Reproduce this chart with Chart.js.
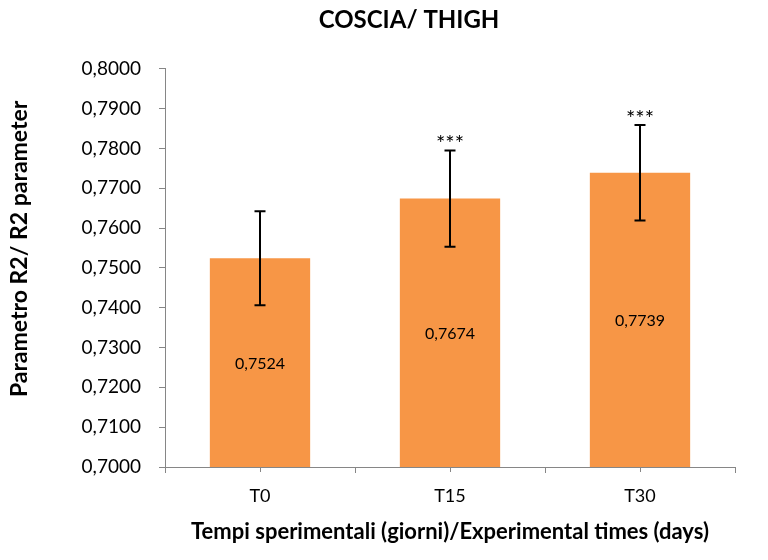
<!DOCTYPE html>
<html>
<head>
<meta charset="utf-8">
<script src="https://cdn.jsdelivr.net/npm/chart.js@4.4.1/dist/chart.umd.min.js"></script>
<style>
  html, body { margin: 0; padding: 0; background: #ffffff; }
  #wrap { width: 768px; height: 560px; }
</style>
</head>
<body>
<div id="wrap"><canvas id="c" width="768" height="560"></canvas></div>
<script>
const categories = ['T0', 'T15', 'T30'];
const values = [0.7524, 0.7674, 0.7739];
const errors = [0.0118, 0.0121, 0.0120];
const significance = ['', '***', '***'];
const yMin = 0.70, yMax = 0.80, yStep = 0.01;
const chartTitle = 'COSCIA/ THIGH';
const xTitle = 'Tempi sperimentali (giorni)/Experimental times (days)';
const yTitle = 'Parametro R2/ R2 parameter';

const FONT = 'Lato, "Open Sans", sans-serif';
const fmt = v => v.toFixed(4).replace('.', ',');

const overlay = {
  id: 'overlay',
  afterLayout(chart) {
    // position the chart title like the reference (slightly left of the plot centre)
    if (chart.titleBlock) {
      chart.titleBlock.left = 82;
      chart.titleBlock.right = 736;
    }
    // shift the y-axis title a little upward along the axis
    const y = chart.scales.y;
    if (!y._titlePatched) {
      const orig = y.drawTitle.bind(y);
      y.drawTitle = function () {
        const t = this.top, b = this.bottom;
        this.top = t - 19; this.bottom = b - 19;
        orig();
        this.top = t; this.bottom = b;
      };
      y._titlePatched = true;
    }
  },
  afterDatasetsDraw(chart) {
    const ctx = chart.ctx;
    const xs = chart.scales.x, ys = chart.scales.y;
    const base = ys.getPixelForValue(yMin);
    ctx.save();
    // centre tick marks on the category axis
    ctx.strokeStyle = '#868686';
    ctx.lineWidth = 1;
    categories.forEach((c, i) => {
      const x = Math.round(xs.getPixelForValue(i)) + 0.5;
      ctx.beginPath();
      ctx.moveTo(x, ys.bottom);
      ctx.lineTo(x, ys.bottom + 5);
      ctx.stroke();
    });
    values.forEach((v, i) => {
      const x = xs.getPixelForValue(i);
      const yTop = ys.getPixelForValue(v + errors[i]);
      const yBot = ys.getPixelForValue(v - errors[i]);
      const yBar = ys.getPixelForValue(v);
      // error bar
      ctx.strokeStyle = '#000000';
      ctx.lineWidth = 2;
      ctx.beginPath();
      ctx.moveTo(x, yTop); ctx.lineTo(x, yBot);
      ctx.moveTo(x - 5.5, yTop); ctx.lineTo(x + 5.5, yTop);
      ctx.moveTo(x - 5.5, yBot); ctx.lineTo(x + 5.5, yBot);
      ctx.stroke();
      // value label in the middle of the bar
      ctx.fillStyle = '#000000';
      ctx.font = '16px ' + FONT;
      ctx.textAlign = 'center';
      ctx.textBaseline = 'middle';
      ctx.fillText(fmt(v), x, (yBar + base) / 2 + 1);
      // significance marks
      if (significance[i]) {
        ctx.font = '22px ' + FONT;
        ctx.textBaseline = 'alphabetic';
        ctx.fillText(significance[i], x, yTop + 1);
      }
    });
    ctx.restore();
  }
};

new Chart(document.getElementById('c'), {
  type: 'bar',
  data: {
    labels: categories,
    datasets: [{
      data: values,
      backgroundColor: '#F79646',
      borderWidth: 0,
      categoryPercentage: 1.0,
      barPercentage: 0.528
    }]
  },
  options: {
    responsive: false,
    animation: false,
    layout: { padding: { left: 6, right: 33, top: 0, bottom: 6 } },
    plugins: {
      legend: { display: false },
      tooltip: { enabled: false },
      title: {
        display: true,
        text: chartTitle,
        color: '#000000',
        font: { family: FONT, size: 24, weight: 'bold' },
        padding: { top: 6, bottom: 34 }
      }
    },
    scales: {
      x: {
        offset: true,
        grid: { display: true, drawOnChartArea: false, offset: true, color: '#868686', tickLength: 6 },
        border: { display: true, color: '#868686', width: 1 },
        ticks: { color: '#000000', font: { family: FONT, size: 18 }, padding: 12, maxRotation: 0 },
        title: {
          display: true,
          text: xTitle,
          color: '#000000',
          font: { family: FONT, size: 22, weight: 'bold' },
          padding: { top: 4, bottom: 9 }
        },
        afterFit(scale) { scale.height = 87; }
      },
      y: {
        min: yMin,
        max: yMax,
        grid: { display: true, drawOnChartArea: false, color: '#868686', tickLength: 6 },
        border: { display: true, color: '#868686', width: 1 },
        ticks: {
          stepSize: yStep,
          color: '#000000',
          font: { family: FONT, size: 19 },
          padding: 18,
          callback: v => fmt(v)
        },
        title: {
          display: true,
          text: yTitle,
          color: '#000000',
          font: { family: FONT, size: 23, weight: 'bold' },
          padding: { top: 0, bottom: 0 }
        },
        afterFit(scale) { scale.width = 159; }
      }
    }
  },
  plugins: [overlay]
});
</script>
</body>
</html>
